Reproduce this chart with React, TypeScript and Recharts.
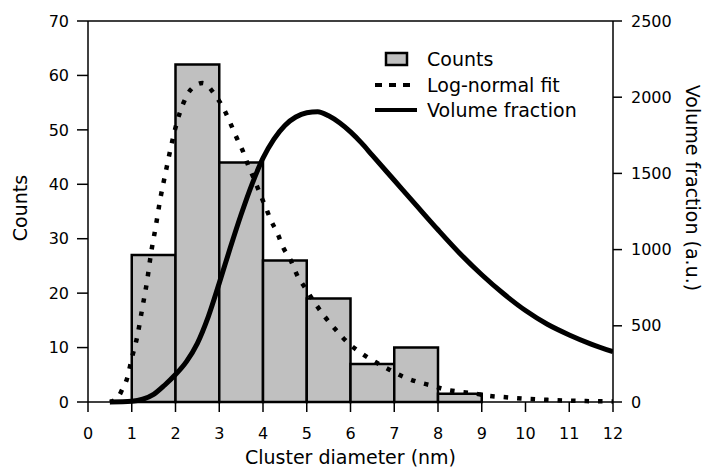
import React from 'react';
import { ComposedChart, Line, XAxis, YAxis, ReferenceArea, ReferenceLine, Legend } from 'recharts';

// histogram bins (nm) and counts
const binStart = [1, 2, 3, 4, 5, 6, 7, 8];
const binEnd = [2, 3, 4, 5, 6, 7, 8, 9];
const counts = [27, 62, 44, 26, 19, 7, 10, 1.5];

// log-normal fit (left axis)
const fitX = [0.5, 0.6, 0.7, 0.77, 0.9, 1.0, 1.13, 1.24, 1.35, 1.44, 1.55, 1.65, 1.78, 1.9, 2.04, 2.18, 2.35, 2.62, 2.93, 3.12, 3.26, 3.4, 3.54, 3.66, 3.8, 3.92, 4.05, 4.18, 4.33, 4.46, 4.63, 4.78, 4.96, 5.17, 5.4, 5.66, 5.94, 6.28, 6.6, 6.9, 7.22, 7.53, 7.86, 8.16, 8.48, 8.81, 9.1, 9.5, 10, 10.5, 11, 11.5, 12];
const fitY = [0, 0.3, 1.0, 2.1, 4.5, 8.0, 12.2, 17.2, 22.2, 27.3, 32.3, 37.2, 42.4, 47.0, 51.6, 54.9, 57.4, 58.6, 56.1, 53.6, 51.1, 48.5, 46.1, 43.5, 40.9, 38.5, 36.0, 33.4, 31.0, 28.4, 26.1, 23.3, 21.0, 18.4, 15.8, 13.3, 10.9, 8.8, 7.2, 5.9, 4.6, 3.7, 3.0, 2.3, 1.9, 1.6, 1.2, 0.9, 0.6, 0.4, 0.25, 0.15, 0.1];

// volume fraction (right axis)
const volX = [0.5, 1, 1.25, 1.5, 1.75, 2, 2.25, 2.5, 2.75, 3, 3.25, 3.5, 3.75, 4, 4.25, 4.5, 4.75, 5, 5.25, 5.5, 5.75, 6, 6.25, 6.5, 7, 7.5, 8, 8.5, 9, 9.5, 10, 10.5, 11, 11.5, 12];
const volY = [0, 5, 18, 50, 110, 180, 265, 385, 560, 780, 1010, 1230, 1430, 1600, 1725, 1815, 1870, 1898, 1905, 1878, 1832, 1772, 1700, 1618, 1455, 1292, 1130, 975, 835, 710, 600, 510, 440, 380, 330];

const xTicks = [0, 1, 2, 3, 4, 5, 6, 7, 8, 9, 10, 11, 12];
const countTicks = [0, 10, 20, 30, 40, 50, 60, 70];
const volTicks = [0, 500, 1000, 1500, 2000, 2500];

const fitData = fitX.map((x, i) => ({ x, fit: fitY[i] }));
const volData = volX.map((x, i) => ({ x, vol: volY[i] }));

const FONT = '"DejaVu Sans", sans-serif';
const tickStyle = { fill: '#000', fontSize: 16, fontFamily: FONT };

const LegendBox = () => (
  <svg width={250} height={80}>
    <rect x={16} y={8} width={21} height={12} fill="#c0c0c0" stroke="#000" strokeWidth={2.5} />
    <text x={57} y={14} dominantBaseline="central" fontSize={19} fontFamily={FONT}>Counts</text>
    <line x1={5} y1={40} x2={40} y2={40} stroke="#000" strokeWidth={4} strokeDasharray="7 7" />
    <text x={57} y={40} dominantBaseline="central" fontSize={19} fontFamily={FONT}>Log-normal fit</text>
    <line x1={5} y1={65} x2={47} y2={65} stroke="#000" strokeWidth={4} />
    <text x={57} y={65} dominantBaseline="central" fontSize={19} fontFamily={FONT}>Volume fraction</text>
  </svg>
);

export default function App() {
  return (
    <div style={{ position: 'absolute', left: 0, top: 0, background: '#fff' }}>
      <ComposedChart width={709} height={468} margin={{ top: 21, right: 0, bottom: 0, left: 0 }}>
        <XAxis
          dataKey="x"
          type="number"
          domain={[0, 12]}
          ticks={xTicks}
          allowDataOverflow
          height={66}
          tickSize={10}
          tickMargin={16}
          tick={tickStyle}
          stroke="#000"
          strokeWidth={1.5}
          label={{
            content: ({ viewBox }: any) => (
              <text x={viewBox.x + viewBox.width / 2} y={457} textAnchor="middle" dominantBaseline="central" fontSize={19} fontFamily={FONT}>
                Cluster diameter (nm)
              </text>
            ),
          }}
        />
        <YAxis
          yAxisId="left"
          domain={[0, 70]}
          ticks={countTicks}
          width={88}
          tickSize={11}
          tickMargin={8}
          tick={tickStyle}
          stroke="#000"
          strokeWidth={1.5}
          label={{
            content: () => (
              <text x={20} y={208} textAnchor="middle" dominantBaseline="central" fontSize={19} fontFamily={FONT} transform="rotate(-90 20 208)">
                Counts
              </text>
            ),
          }}
        />
        <YAxis
          yAxisId="right"
          orientation="right"
          domain={[0, 2500]}
          ticks={volTicks}
          width={96}
          tickSize={9}
          tickMargin={9}
          tick={tickStyle}
          stroke="#000"
          strokeWidth={1.5}
          label={{
            content: () => (
              <text x={693} y={188} textAnchor="middle" dominantBaseline="central" fontSize={19} fontFamily={FONT} transform="rotate(90 693 188)">
                Volume fraction (a.u.)
              </text>
            ),
          }}
        />
        <ReferenceLine yAxisId="left" y={70} stroke="#000" strokeWidth={1.5} />
        {counts.map((c, i) => (
          <ReferenceArea
            key={i}
            yAxisId="left"
            x1={binStart[i]}
            x2={binEnd[i]}
            y1={0}
            y2={c}
            fill="#c0c0c0"
            fillOpacity={1}
            stroke="#000"
            strokeWidth={2.5}
          />
        ))}
        <Line
          yAxisId="left"
          data={fitData}
          dataKey="fit"
          type="monotone"
          stroke="#000"
          strokeWidth={4.5}
          strokeDasharray="4.5 9"
          dot={false}
          isAnimationActive={false}
        />
        <Line
          yAxisId="right"
          data={volData}
          dataKey="vol"
          type="monotone"
          stroke="#000"
          strokeWidth={5}
          dot={false}
          isAnimationActive={false}
        />
        <Legend
          layout="horizontal"
          verticalAlign="middle"
          wrapperStyle={{ left: 370, top: 45, width: 250 }}
          content={() => <LegendBox />}
        />
      </ComposedChart>
    </div>
  );
}
